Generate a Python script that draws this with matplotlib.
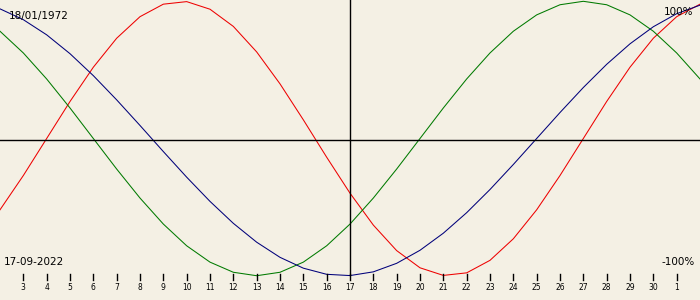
import matplotlib
matplotlib.use('Agg')
import matplotlib.pyplot as plt

# days relative to 17-09-2022
days = list(range(-15, 16))

physical = [-0.5196, -0.2698, 0.0, 0.2698, 0.5196, 0.7308, 0.8879, 0.9791, 0.9977, 0.9423,
            0.8170, 0.6311, 0.3984, 0.1362, -0.1362, -0.3984, -0.6311, -0.8170, -0.9423, -0.9977,
            -0.9791, -0.8879, -0.7308, -0.5196, -0.2698, 0.0, 0.2698, 0.5196, 0.7308, 0.8879, 0.9791]
emotional = [0.7818, 0.6235, 0.4339, 0.2225, 0.0, -0.2225, -0.4339, -0.6235, -0.7818, -0.9010,
             -0.9749, -1.0, -0.9749, -0.9010, -0.7818, -0.6235, -0.4339, -0.2225, 0.0, 0.2225,
             0.4339, 0.6235, 0.7818, 0.9010, 0.9749, 1.0, 0.9749, 0.9010, 0.7818, 0.6235, 0.4339]
intellectual = [0.9450, 0.8660, 0.7557, 0.6182, 0.4582, 0.2817, 0.0951, -0.0951, -0.2817, -0.4582,
                -0.6182, -0.7557, -0.8660, -0.9450, -0.9898, -0.9989, -0.9718, -0.9096, -0.8146, -0.6901,
                -0.5406, -0.3717, -0.1893, 0.0, 0.1893, 0.3717, 0.5406, 0.6901, 0.8146, 0.9096, 0.9718]

tick_days = list(range(-14, 15))
tick_labels = [str(d) for d in range(3, 31)] + ['1']

birth = '18/01/1972'
today = '17-09-2022'

bg = '#f4f0e4'
fig = plt.figure(figsize=(7, 3), dpi=100, facecolor=bg)
ax = fig.add_axes([0, 0, 1, 1], facecolor=bg)

ax.plot(days, physical, color='#ee0000', lw=0.75)
ax.plot(days, emotional, color='#007a00', lw=0.75)
ax.plot(days, intellectual, color='#00007a', lw=0.75)

ax.set_xlim(-15, 15)
ax.set_ylim(-1.177, 1.0095)

ax.axhline(-0.011, color='black', lw=1)
ax.plot([0, 0], [-0.995, 1.1], color='black', lw=1)

for t, lab in zip(tick_days, tick_labels):
    ax.plot([t, t], [-0.988, -1.032], color='black', lw=1)
    ax.text(t, -1.085, lab, ha='center', va='center', fontsize=5.5, color='black')

ax.text(0.012, 0.945, birth, transform=ax.transAxes, ha='left', va='center', fontsize=7.5)
ax.text(0.006, 0.127, today, transform=ax.transAxes, ha='left', va='center', fontsize=7.5)
ax.text(0.99, 0.96, '100%', transform=ax.transAxes, ha='right', va='center', fontsize=7.5)
ax.text(0.992, 0.127, '-100%', transform=ax.transAxes, ha='right', va='center', fontsize=7.5)

ax.set_axis_off()
plt.savefig('out.png', dpi=100, facecolor=bg)
